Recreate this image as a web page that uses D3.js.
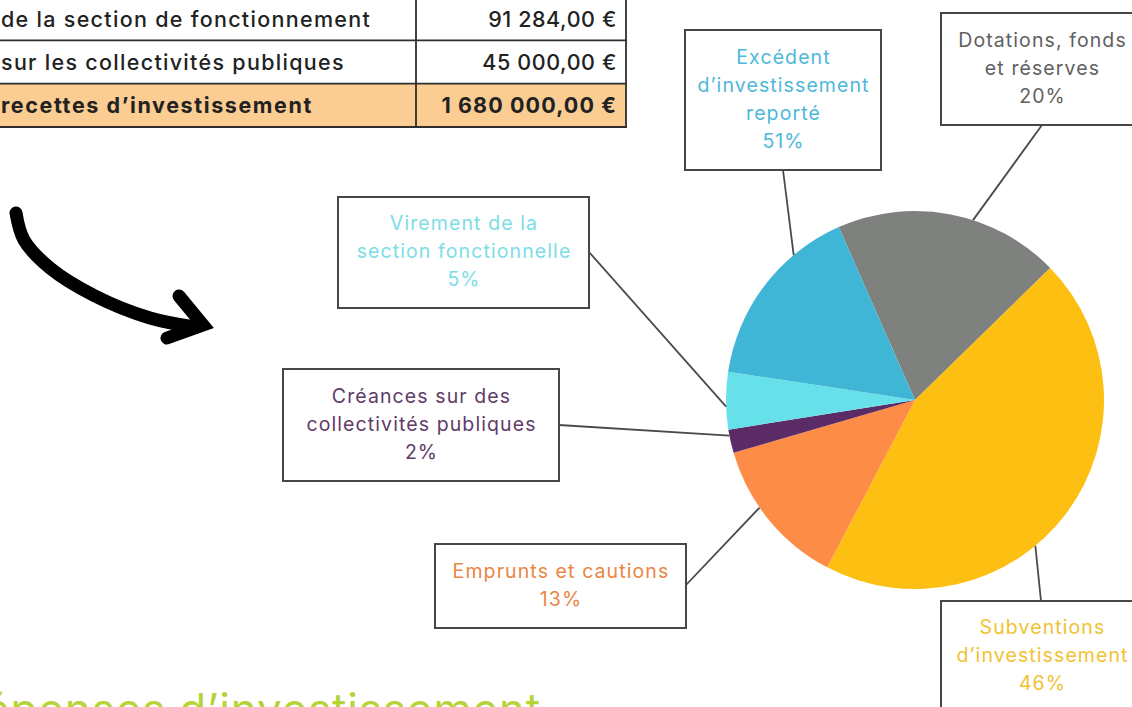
<!DOCTYPE html>
<html><head><meta charset="utf-8">
<script src="https://cdn.jsdelivr.net/npm/d3@7"></script>
<style>
html,body{margin:0;padding:0;background:#fff;overflow:hidden;}
svg{display:block;}
</style></head>
<body>
<svg id="c" width="1132" height="707"></svg>
<script>
// ---- data ----
const categories = ["Dotations, fonds et réserves", "Subventions d’investissement", "Emprunts et cautions",
  "Créances sur des collectivités publiques", "Virement de la section fonctionnelle", "Excédent d’investissement reporté"];
const shares = [19.3, 45.0, 12.8, 2.0, 4.9, 16.0];
const labelPct = ["20%", "46%", "13%", "2%", "5%", "51%"];
const labelLines = [["Dotations, fonds", "et réserves"], ["Subventions", "d’investissement"], ["Emprunts et cautions"],
  ["Créances sur des", "collectivités publiques"], ["Virement de la", "section fonctionnelle"], ["Excédent", "d’investissement", "reporté"]];
const tableLabels = ["de la section de fonctionnement", "sur les collectivités publiques", "recettes d’investissement"];
const tableValues = ["91 284,00 €", "45 000,00 €", "1 680 000,00 €"];
const heading = "Dépenses d’investissement";

// ---- styles / layout ----
const sliceColors = ["#7e817e", "#fdbf12", "#fd8c47", "#5b2b67", "#66e1ea", "#40b6d7"];
const textColors = ["#606060", "#f1c232", "#ea8543", "#5e3b68", "#7bdde6", "#4db8db"];
const boxes = [ // x, y, w, h, leader start, fraction along slice
  {x: 941, y: 13, w: 204, h: 112, lx: 1042, ly: 125, t: 0.60},
  {x: 941, y: 601, w: 204, h: 112, lx: 1041, ly: 601, t: 0.585},
  {x: 435, y: 544, w: 251, h: 84, lx: 686, ly: 585, t: 0.60},
  {x: 283, y: 369, w: 276, h: 112, lx: 559, ly: 425, t: 0.75},
  {x: 338, y: 197, w: 251, h: 111, lx: 589, ly: 252, t: 0.40},
  {x: 685, y: 30, w: 196, h: 140, lx: 783, ly: 170, t: 0.72}
];
const FONT = "Inter, 'Noto Sans', sans-serif";

const svg = d3.select("#c");

// ---- table ----
const rowY = d3.scaleBand().domain(d3.range(tableLabels.length)).range([-3, 127]).paddingInner(0);
const tbl = svg.append("g");
tbl.selectAll("rect.bg").data(tableLabels).join("rect")
  .attr("x", -5).attr("y", (d, i) => rowY(i)).attr("width", 631).attr("height", rowY.bandwidth())
  .attr("fill", (d, i) => i === 2 ? "#fbcd93" : "#fff");
tbl.selectAll("line.h").data(d3.range(tableLabels.length + 1)).join("line")
  .attr("x1", -5).attr("x2", 627)
  .attr("y1", i => i < 3 ? rowY(i) : 127).attr("y2", i => i < 3 ? rowY(i) : 127)
  .attr("stroke", "#2e2e2e").attr("stroke-width", 1.8);
[416, 626].forEach(x => tbl.append("line").attr("x1", x).attr("x2", x).attr("y1", -3).attr("y2", 127)
  .attr("stroke", "#2e2e2e").attr("stroke-width", 1.8));
tbl.selectAll("text.l").data(tableLabels).join("text")
  .attr("x", 1).attr("y", (d, i) => rowY(i) + rowY.bandwidth() / 2 + 8)
  .attr("font-family", FONT).attr("font-size", 21.5).attr("fill", "#222")
  .attr("letter-spacing", (d, i) => i === 2 ? 1.6 : 1.3)
  .attr("font-weight", (d, i) => i === 2 ? 700 : 500).text(d => d);
tbl.selectAll("text.v").data(tableValues).join("text")
  .attr("x", 617).attr("y", (d, i) => rowY(i) + rowY.bandwidth() / 2 + 8).attr("text-anchor", "end")
  .attr("font-family", FONT).attr("font-size", 21.5).attr("fill", "#222")
  .attr("letter-spacing", (d, i) => i === 2 ? 1.1 : 0.6)
  .attr("font-weight", (d, i) => i === 2 ? 700 : 500).text(d => d);

// ---- curved arrow ----
const arrowPts = [[16, 213], [24, 240], [50, 268], [95, 296], [150, 318], [195, 327]];
svg.append("path").attr("d", d3.line().curve(d3.curveCatmullRom)(arrowPts))
  .attr("fill", "none").attr("stroke", "#000").attr("stroke-width", 13).attr("stroke-linecap", "round");
svg.append("path").attr("d", d3.line()([[179, 296], [203, 325], [167, 338]]))
  .attr("fill", "none").attr("stroke", "#000").attr("stroke-width", 13).attr("stroke-linejoin", "miter")
  .attr("stroke-linecap", "round");

// ---- pie ----
const cx = 915, cy = 400, R = 189;
const a0 = -23.8 * Math.PI / 180;
const pie = d3.pie().sort(null).value(d => d).startAngle(a0).endAngle(a0 + 2 * Math.PI);
const arcs = pie(shares);
const arc = d3.arc().innerRadius(0).outerRadius(R);
const g = svg.append("g").attr("transform", `translate(${cx},${cy})`);

// leader lines (drawn under pie)
const leaders = svg.append("g");
arcs.forEach((a, i) => {
  const b = boxes[i];
  const ang = a.startAngle + (a.endAngle - a.startAngle) * b.t;
  const px = cx + R * Math.sin(ang), py = cy - R * Math.cos(ang);
  leaders.append("line").attr("x1", b.lx).attr("y1", b.ly).attr("x2", px).attr("y2", py)
    .attr("stroke", "#4a4a4a").attr("stroke-width", 1.8);
});

g.selectAll("path").data(arcs).join("path").attr("d", arc).attr("fill", (d, i) => sliceColors[i]);

// ---- label boxes ----
const lab = svg.append("g");
boxes.forEach((b, i) => {
  lab.append("rect").attr("x", b.x).attr("y", b.y).attr("width", b.w).attr("height", b.h)
    .attr("fill", "#fff").attr("stroke", "#474747").attr("stroke-width", 2);
  const lines = labelLines[i].concat([labelPct[i]]);
  const lh = 28;
  const mid = b.y + (i === 1 ? 55 : b.h / 2);
  const y0 = mid - (lines.length - 1) * lh / 2;
  const t = lab.append("text").attr("text-anchor", "middle").attr("font-family", FONT)
    .attr("font-size", 19.5).attr("letter-spacing", 1.1).attr("fill", textColors[i]);
  lines.forEach((ln, k) => t.append("tspan").attr("x", b.x + b.w / 2 - (i < 2 ? 1 : 0) + 0.5)
    .attr("y", y0 + k * lh + 5.5).text(ln));
});

// ---- heading ----
svg.append("text").attr("x", 541).attr("y", 725).attr("text-anchor", "end")
  .attr("font-family", FONT).attr("font-size", 44).attr("letter-spacing", 0.8).attr("fill", "#b6d43a").text(heading);
</script>
</body></html>
